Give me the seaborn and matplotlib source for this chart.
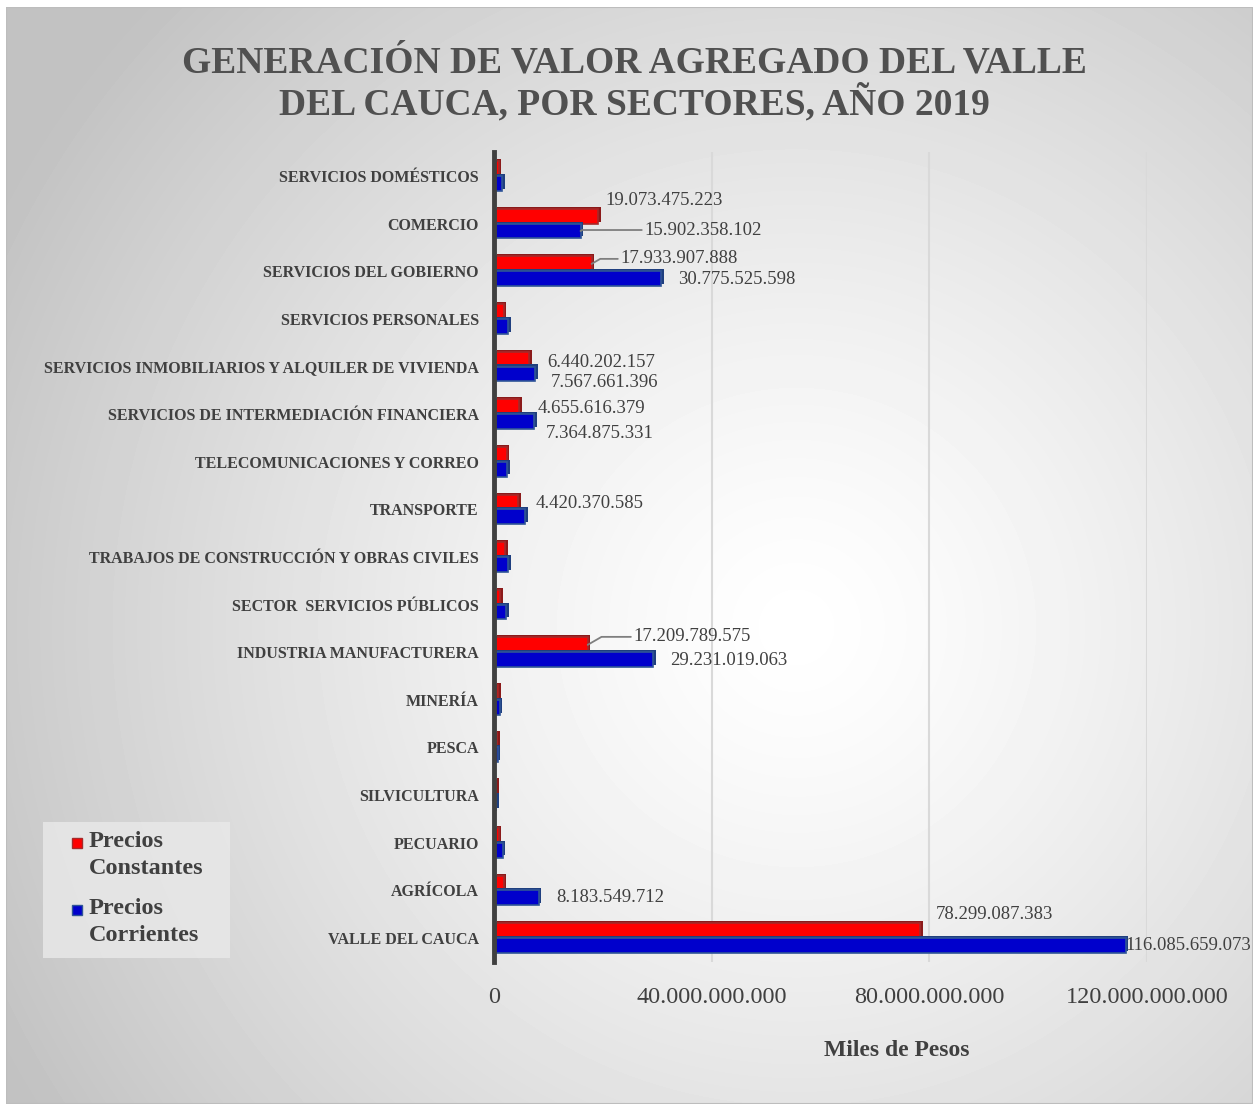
import numpy as np
import pandas as pd
import matplotlib
matplotlib.use("Agg")
import matplotlib.pyplot as plt
import matplotlib.patheffects as pe
from matplotlib.patches import Rectangle
import seaborn as sns

# Sector values, thousands of pesos
categories = [
    "SERVICIOS DOMÉSTICOS",
    "COMERCIO",
    "SERVICIOS DEL GOBIERNO",
    "SERVICIOS PERSONALES",
    "SERVICIOS INMOBILIARIOS Y ALQUILER DE VIVIENDA",
    "SERVICIOS DE INTERMEDIACIÓN FINANCIERA",
    "TELECOMUNICACIONES Y CORREO",
    "TRANSPORTE",
    "TRABAJOS DE CONSTRUCCIÓN Y OBRAS CIVILES",
    "SECTOR  SERVICIOS PÚBLICOS",
    "INDUSTRIA MANUFACTURERA",
    "MINERÍA",
    "PESCA",
    "SILVICULTURA",
    "PECUARIO",
    "AGRÍCOLA",
    "VALLE DEL CAUCA",
]
precios_constantes = [
    850_000_000, 19_073_475_223, 17_933_907_888, 1_750_000_000,
    6_440_202_157, 4_655_616_379, 2_300_000_000, 4_420_370_585,
    2_000_000_000, 1_100_000_000, 17_209_789_575, 700_000_000,
    550_000_000, 400_000_000, 850_000_000, 1_750_000_000, 78_299_087_383,
]
precios_corrientes = [
    1_450_000_000, 15_902_358_102, 30_775_525_598, 2_650_000_000,
    7_567_661_396, 7_364_875_331, 2_450_000_000, 5_700_000_000,
    2_650_000_000, 2_250_000_000, 29_231_019_063, 1_050_000_000,
    650_000_000, 450_000_000, 1_600_000_000, 8_183_549_712, 116_085_659_073,
]
series_names = ["Precios\nConstantes", "Precios\nCorrientes"]
x_ticks = [0, 40_000_000_000, 80_000_000_000, 120_000_000_000]

# Which bars carry a value label: (category, series index, dx px, dy px, leader line)
labelled = [
    ("COMERCIO", 0, 8, 16, False),
    ("COMERCIO", 1, 64, 1, True),
    ("SERVICIOS DEL GOBIERNO", 0, 29, 5, True),
    ("SERVICIOS DEL GOBIERNO", 1, 17, -1, False),
    ("SERVICIOS INMOBILIARIOS Y ALQUILER DE VIVIENDA", 0, 18, -3, False),
    ("SERVICIOS INMOBILIARIOS Y ALQUILER DE VIVIENDA", 1, 16, -9, False),
    ("SERVICIOS DE INTERMEDIACIÓN FINANCIERA", 0, 18, -2, False),
    ("SERVICIOS DE INTERMEDIACIÓN FINANCIERA", 1, 12, -12, False),
    ("TRANSPORTE", 0, 18, -2, False),
    ("INDUSTRIA MANUFACTURERA", 0, 46, 8, True),
    ("INDUSTRIA MANUFACTURERA", 1, 17, -1, False),
    ("AGRÍCOLA", 1, 18, 0, False),
    ("VALLE DEL CAUCA", 0, 16, 16, False),
    ("VALLE DEL CAUCA", 1, 0, 0, False),
]

df = pd.DataFrame({
    "sector": categories * 2,
    "serie": [series_names[0]] * len(categories) + [series_names[1]] * len(categories),
    "valor": precios_constantes + precios_corrientes,
})

TEXT = "#404040"
SERIF = ["Liberation Serif", "DejaVu Serif"]
plt.rcParams["font.family"] = SERIF

W, H = 1253, 1104
fig = plt.figure(figsize=(W / 100, H / 100), dpi=100, facecolor="white")

# Radial grey gradient panel behind the chart
bg = fig.add_axes([6 / W, 0, 1 - 6 / W, 1 - 7 / H], zorder=-10)
yy, xx = np.mgrid[0:H - 7, 0:W - 6]
r = np.hypot(xx - 790, yy - 620)
r = np.clip(r / 900.0, 0, 1)
shade = 1.0 - 0.24 * r ** 1.3
bg.imshow(shade, cmap="gray", vmin=0, vmax=1, aspect="auto", interpolation="bilinear")
bg.set_axis_off()
bg.add_patch(Rectangle((0, 0), 1, 1, transform=bg.transAxes, fill=False,
                       edgecolor="#bdbdbd", linewidth=1.5))

ax = fig.add_axes([494 / W, 1 - 961.8 / H, (1147 - 494) / W, 809.6 / H])
ax.set_facecolor("none")

colors = ["#ff0000", "#0000cc"]
palette = dict(zip(series_names, colors))
sns.barplot(data=df, y="sector", x="valor", hue="serie", orient="h",
            palette=palette, width=0.62, ax=ax, legend=False, saturation=1)

edge = ["#a52a2a", "#2f5597"]
shadow = ["#8b1a1a", "#1f3f7f"]
for i, cont in enumerate(ax.containers):
    for bar in cont:
        bar.set_edgecolor(edge[i])
        bar.set_linewidth(1.2)
        bar.set_zorder(3)
        bar.set_path_effects([
            pe.SimplePatchShadow(offset=(2, 1.5), shadow_rgbFace=shadow[i], alpha=1.0),
            pe.Normal(),
        ])

def fmt(v):
    return f"{v:,.0f}".replace(",", ".")

# Value labels anchored to their bars
for sector, s, dx, dy, leader in labelled:
    bar = ax.containers[s][categories.index(sector)]
    val = bar.get_width()
    yc = bar.get_y() + bar.get_height() / 2
    kw = dict(xy=(val, yc), xycoords="data", xytext=(dx, dy), textcoords="offset pixels",
              ha="left", va="center", fontsize=13.5, color=TEXT, zorder=5)
    if leader:
        kw["arrowprops"] = dict(arrowstyle="-", color="#7f7f7f", lw=1.3,
                                shrinkA=0, shrinkB=0,
                                connectionstyle="angle,angleA=0,angleB=30,rad=0")
    ax.annotate(fmt(val), **kw)

ax.set_xlim(0, 120_000_000_000)
ax.set_xticks(x_ticks)
ax.set_xticklabels([fmt(t) for t in x_ticks], fontsize=17.5, color=TEXT)
ax.tick_params(axis="x", length=0, pad=18)
ax.tick_params(axis="y", length=0, pad=11)
for lbl in ax.get_yticklabels():
    lbl.set_fontsize(11.5)
    lbl.set_fontweight("bold")
    lbl.set_color(TEXT)
ax.set_xlabel("")
ax.set_ylabel("")
ax.grid(axis="x", color="#d9d9d9", linewidth=1.5, zorder=0)
ax.grid(axis="y", visible=False)
ax.set_axisbelow(True)
for side in ["top", "right", "bottom"]:
    ax.spines[side].set_visible(False)
ax.spines["left"].set_color("#404040")
ax.spines["left"].set_linewidth(3.5)
ax.spines["left"].set_zorder(4)

fig.text(634 / W, 1 - 84 / H, "GENERACIÓN DE VALOR AGREGADO DEL VALLE\nDEL CAUCA, POR SECTORES, AÑO 2019",
         ha="center", va="center", fontsize=27, fontweight="bold", color="#505050",
         linespacing=1.12)
fig.text(897 / W, 1 - 1050 / H, "Miles de Pesos", ha="center", va="center",
         fontsize=17, fontweight="bold", color=TEXT)

# Legend panel: swatch beside the first line of each two-line entry
fig.patches.append(Rectangle((43 / W, 1 - 958 / H), (230 - 43) / W, (958 - 822) / H,
                             transform=fig.transFigure, facecolor="#e8e8e8",
                             edgecolor="none", alpha=0.85, zorder=1))
for k, (name, col, ec) in enumerate(zip(series_names, colors, edge)):
    y_first = 843 + k * 67
    fig.patches.append(Rectangle((72 / W, 1 - (y_first + 5) / H), 10 / W, 10 / H,
                                 transform=fig.transFigure, facecolor=col,
                                 edgecolor=ec, linewidth=1, zorder=2))
    fig.text(89 / W, 1 - (y_first - 12) / H, name, ha="left", va="top",
             fontsize=17.5, fontweight="bold", color=TEXT, linespacing=1.4, zorder=3)

fig.savefig("out.png", dpi=100, facecolor="white")
